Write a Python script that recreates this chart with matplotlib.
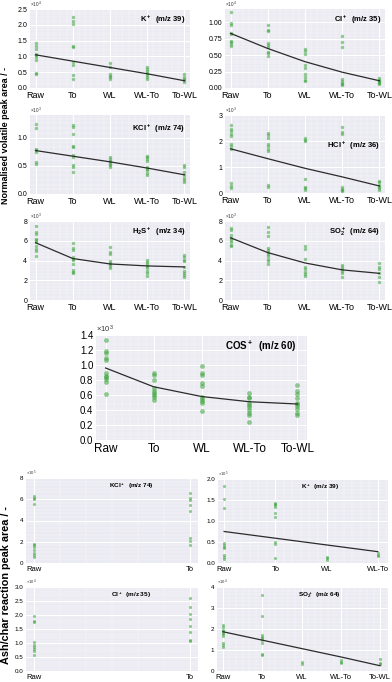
import matplotlib.pyplot as plt
import numpy as np
from matplotlib.ticker import AutoMinorLocator, FormatStrFormatter

plt.rcParams['font.family'] = ['Liberation Sans', 'DejaVu Sans']
plt.rcParams['mathtext.default'] = 'regular'

# categories
cats = ['Raw', 'To', 'WL', 'WL-To', 'To-WL']

# volatile release, points per category + fitted trend
k39_pts = [[1.41, 1.33, 1.25, 1.09, 1.04, 0.99, 0.90, 0.46, 0.43],
           [2.25, 2.12, 2.04, 1.33, 1.30, 0.83, 0.72, 0.41, 0.30],
           [0.78, 0.67, 0.44, 0.38, 0.34, 0.27],
           [0.65, 0.59, 0.54, 0.46, 0.41, 0.36, 0.30],
           [0.44, 0.34, 0.28, 0.25, 0.20]]
k39_fit = [1.05, 0.85, 0.65, 0.45, 0.23]

cl35_pts = [[1.15, 0.98, 0.96, 0.83, 0.82, 0.72, 0.70, 0.67, 0.64],
            [0.95, 0.88, 0.87, 0.69, 0.66, 0.63, 0.55, 0.53, 0.49],
            [0.59, 0.56, 0.52, 0.35, 0.31, 0.21, 0.16, 0.12, 0.10],
            [0.79, 0.70, 0.62, 0.13, 0.11, 0.08, 0.06, 0.05],
            [0.15, 0.12, 0.11, 0.09, 0.07, 0.06]]
cl35_fit = [0.83, 0.60, 0.40, 0.24, 0.11]

kcl74_pts = [[1.24, 1.17, 0.80, 0.78, 0.75, 0.56, 0.54],
             [1.22, 1.19, 1.07, 0.85, 0.83, 0.69, 0.66, 0.51, 0.48, 0.39],
             [0.65, 0.62, 0.59, 0.56, 0.53, 0.51, 0.48],
             [0.68, 0.65, 0.62, 0.58, 0.48, 0.45, 0.42, 0.37, 0.33],
             [0.51, 0.48, 0.39, 0.33, 0.29, 0.24, 0.22]]
kcl74_fit = [0.77, 0.67, 0.57, 0.46, 0.34]

hcl36_pts = [[2.63, 2.47, 2.38, 2.28, 2.18, 1.90, 1.80, 1.71, 0.38, 0.28, 0.19],
             [2.30, 2.22, 2.13, 1.87, 1.80, 1.71, 1.62, 0.29, 0.25],
             [2.13, 2.05, 2.00, 0.53, 0.25, 0.19, 0.13],
             [2.53, 2.34, 2.28, 0.22, 0.16, 0.13, 0.09],
             [0.47, 0.41, 0.32, 0.25, 0.19, 0.13]]
hcl36_fit = [1.70, 1.32, 0.95, 0.62, 0.27]

h2s34_pts = [[7.5, 6.9, 6.7, 6.2, 6.05, 5.9, 5.45, 5.2, 5.0, 4.45],
             [5.8, 5.3, 5.05, 4.4, 4.2, 4.05, 3.65, 3.05, 2.85, 2.7],
             [5.4, 4.9, 4.65, 3.95, 3.75, 3.65, 3.45, 3.25],
             [4.05, 3.85, 3.65, 3.45, 3.2, 2.95, 2.7, 2.4],
             [4.55, 4.4, 4.1, 3.95, 3.35, 2.95, 2.75, 2.5, 2.35]]
h2s34_fit = [5.8, 4.2, 3.65, 3.45, 3.35]

so264_pts = [[7.3, 7.1, 6.55, 6.3, 6.05, 5.85, 5.6, 5.45],
             [7.4, 6.9, 6.45, 5.3, 5.1, 4.9, 4.7, 4.45, 4.2, 3.95, 3.6],
             [5.45, 5.2, 4.2, 3.35, 3.1, 2.85, 2.6, 2.4],
             [3.5, 3.3, 3.1, 2.95, 2.75, 2.3],
             [3.75, 3.35, 3.1, 2.75, 2.3, 1.85]]
so264_fit = [6.3, 4.8, 3.75, 3.05, 2.7]

cos60_pts = [[1.34, 1.19, 1.16, 1.09, 1.07, 0.89, 0.86, 0.84, 0.81, 0.78, 0.62],
             [0.89, 0.87, 0.80, 0.69, 0.66, 0.63, 0.60, 0.57, 0.53],
             [0.99, 0.90, 0.87, 0.76, 0.72, 0.58, 0.55, 0.52, 0.49, 0.39],
             [0.63, 0.58, 0.56, 0.49, 0.47, 0.44, 0.40, 0.36, 0.33, 0.24],
             [0.74, 0.66, 0.62, 0.56, 0.50, 0.48, 0.45, 0.41, 0.36, 0.33]]
cos60_fit = [0.96, 0.71, 0.58, 0.51, 0.48]

# ash/char reaction
r_kcl74_pts = [[6.3, 6.15, 6.0, 5.6, 1.8, 1.65, 1.55, 1.25, 0.95, 0.75, 0.55],
               [6.55, 6.1, 5.95, 5.5, 4.85, 2.4, 2.1, 1.7]]

r_k39_pts = [[1.83, 1.52, 1.30, 0.48, 0.43, 0.39, 0.35, 0.19, 0.14, 0.09],
             [1.43, 1.40, 1.37, 1.34, 1.20, 1.09, 0.51, 0.46, 0.11],
             [0.15, 0.11, 0.07],
             [0.23, 0.19, 0.17]]
r_k39_fit = [0.75, 0.59, 0.43, 0.27]

r_cl35_pts = [[1.97, 1.80, 1.74, 1.04, 0.92, 0.86, 0.80, 0.72, 0.56],
              [2.60, 2.28, 2.03, 1.86, 1.61, 1.40, 1.10, 1.07]]

r_so264_pts = [[2.19, 2.08, 1.95, 1.90, 1.82, 1.74, 1.66, 1.31, 1.23, 1.12],
               [3.63, 2.62, 1.71, 1.63, 1.55, 1.47, 1.34, 0.83, 0.75],
               [0.43, 0.35],
               [0.54, 0.43, 0.38],
               [0.56, 0.40, 0.35]]
r_so264_fit = [1.87, 1.47, 1.07, 0.67, 0.25]

W, H = 392, 682
fig = plt.figure(figsize=(W / 100, H / 100), dpi=100)


def box(x0, y0, x1, y1):
    return [x0 / W, 1 - y1 / H, (x1 - x0) / W, (y1 - y0) / H]


def panel(rect, pts, fit, ylim, yticks, fmt, title, tx, ty, expo,
          xfs=6.5, yfs=5, tfs=5.5, efs=3.4, ms=6, xlim=None):
    ax = fig.add_axes(box(*rect))
    ax.set_facecolor('#EAEAF2')
    for s in ax.spines.values():
        s.set_visible(False)
    n = len(pts)
    for i, v in enumerate(pts):
        ax.scatter(np.full(len(v), i), v, s=ms, color='#3aa33a', alpha=0.55,
                   linewidths=0, zorder=3)
    if fit is not None:
        ax.plot(range(n), fit, color='#2b2b2b', lw=0.9, zorder=4)
    ax.set_xticks(range(n))
    ax.set_xticklabels(cats[:n], fontsize=xfs)
    ax.set_yticks(yticks)
    ax.yaxis.set_major_formatter(FormatStrFormatter(fmt))
    ax.tick_params(axis='y', labelsize=yfs, length=0, pad=2)
    ax.tick_params(axis='x', length=0, pad=2)
    ax.set_ylim(*ylim)
    ax.set_xlim(*(xlim if xlim else (-0.15, n - 1 + 0.15)))
    ax.xaxis.set_minor_locator(AutoMinorLocator(6))
    ax.yaxis.set_minor_locator(AutoMinorLocator(6))
    ax.tick_params(which='minor', length=0)
    ax.grid(True, which='major', color='white', lw=0.8, zorder=0)
    ax.grid(True, which='minor', color='white', lw=0.3, alpha=0.7, zorder=0)
    ax.set_axisbelow(True)
    ax.text(tx, ty, title, transform=ax.transAxes, fontsize=tfs,
            fontweight='bold', ha='right' if tx > 0.7 else 'center', va='center')
    ax.text(0.0, 1.0, r'$\times10^{%d}$' % expo, transform=ax.transAxes,
            fontsize=efs, ha='left', va='bottom', color='#333333')
    return ax


# volatile panels
panel((30, 9, 190, 88), k39_pts, k39_fit, (0, 2.5), [0, 0.5, 1.0, 1.5, 2.0, 2.5],
      '%.1f', 'K$^+$  (m/z 39)', 0.97, 0.86, 4)
panel((225, 9, 385, 88), cl35_pts, cl35_fit, (0, 1.2), [0, 0.25, 0.5, 0.75, 1.0],
      '%.2f', 'Cl$^+$  (m/z 35)', 0.98, 0.86, 4)
panel((30, 115, 190, 194), kcl74_pts, kcl74_fit, (0, 1.4), [0, 0.5, 1.0],
      '%.1f', 'KCl$^+$  (m/z 74)', 0.97, 0.82, 3)
panel((225, 115, 385, 193), hcl36_pts, hcl36_fit, (0, 3), [0, 1, 2, 3],
      '%d', 'HCl$^+$  (m/z 36)', 0.97, 0.6, 3)
panel((30, 221, 190, 300), h2s34_pts, h2s34_fit, (0, 8), [0, 2, 4, 6, 8],
      '%d', 'H$_2$S$^+$  (m/z 34)', 0.97, 0.86, 3)
panel((225, 221, 385, 300), so264_pts, so264_fit, (0, 8), [0, 2, 4, 6, 8],
      '%d', 'SO$_2^+$  (m/z 64)', 0.97, 0.86, 3)
panel((96, 335, 307, 440), cos60_pts, cos60_fit, (0, 1.4),
      [0, 0.2, 0.4, 0.6, 0.8, 1.0, 1.2, 1.4], '%.1f', 'COS$^+$  (m/z 60)',
      0.95, 0.89, 3, xfs=8.5, yfs=7, tfs=7, efs=5.5, ms=12, xlim=(-0.2, 4.2))

# ash/char reaction panels
panel((26, 478, 198, 563), r_kcl74_pts, None, (0, 8), [0, 2, 4, 6, 8],
      '%d', 'KCl$^+$  (m/z 74)', 0.61, 0.9, 5, xfs=5.5, yfs=4.5, tfs=4.6,
      efs=3.0, ms=5, xlim=(-0.05, 1.05))
panel((218, 479, 388, 563), r_k39_pts, r_k39_fit, (0, 2.0), [0, 0.5, 1.0, 1.5, 2.0],
      '%.1f', 'K$^+$  (m/z 39)', 0.6, 0.9, 5, xfs=5.5, yfs=4.5, tfs=4.6,
      efs=3.0, ms=5, xlim=(-0.12, 3.2))
panel((26, 587, 198, 671), r_cl35_pts, None, (0, 3.0),
      [0, 0.5, 1.0, 1.5, 2.0, 2.5, 3.0], '%.1f', 'Cl$^+$  (m/z 35)', 0.61, 0.9, 4,
      xfs=5.5, yfs=4.5, tfs=4.6, efs=3.0, ms=5, xlim=(-0.05, 1.05))
panel((217, 587, 388, 671), r_so264_pts, r_so264_fit, (0, 4), [0, 1, 2, 3, 4],
      '%d', 'SO$_2^+$  (m/z 64)', 0.6, 0.9, 4, xfs=5.5, yfs=4.5, tfs=4.6,
      efs=3.0, ms=5, xlim=(-0.15, 4.2))

fig.text(6 / W, 1 - 135 / H, 'Normalised volatile peak area / -', rotation=90,
         fontsize=6.5, fontweight='bold', ha='center', va='center')
fig.text(6 / W, 1 - 585 / H, 'Ash/char reaction peak area / -', rotation=90,
         fontsize=7.8, fontweight='bold', ha='center', va='center')

fig.savefig('out.png', dpi=100)
